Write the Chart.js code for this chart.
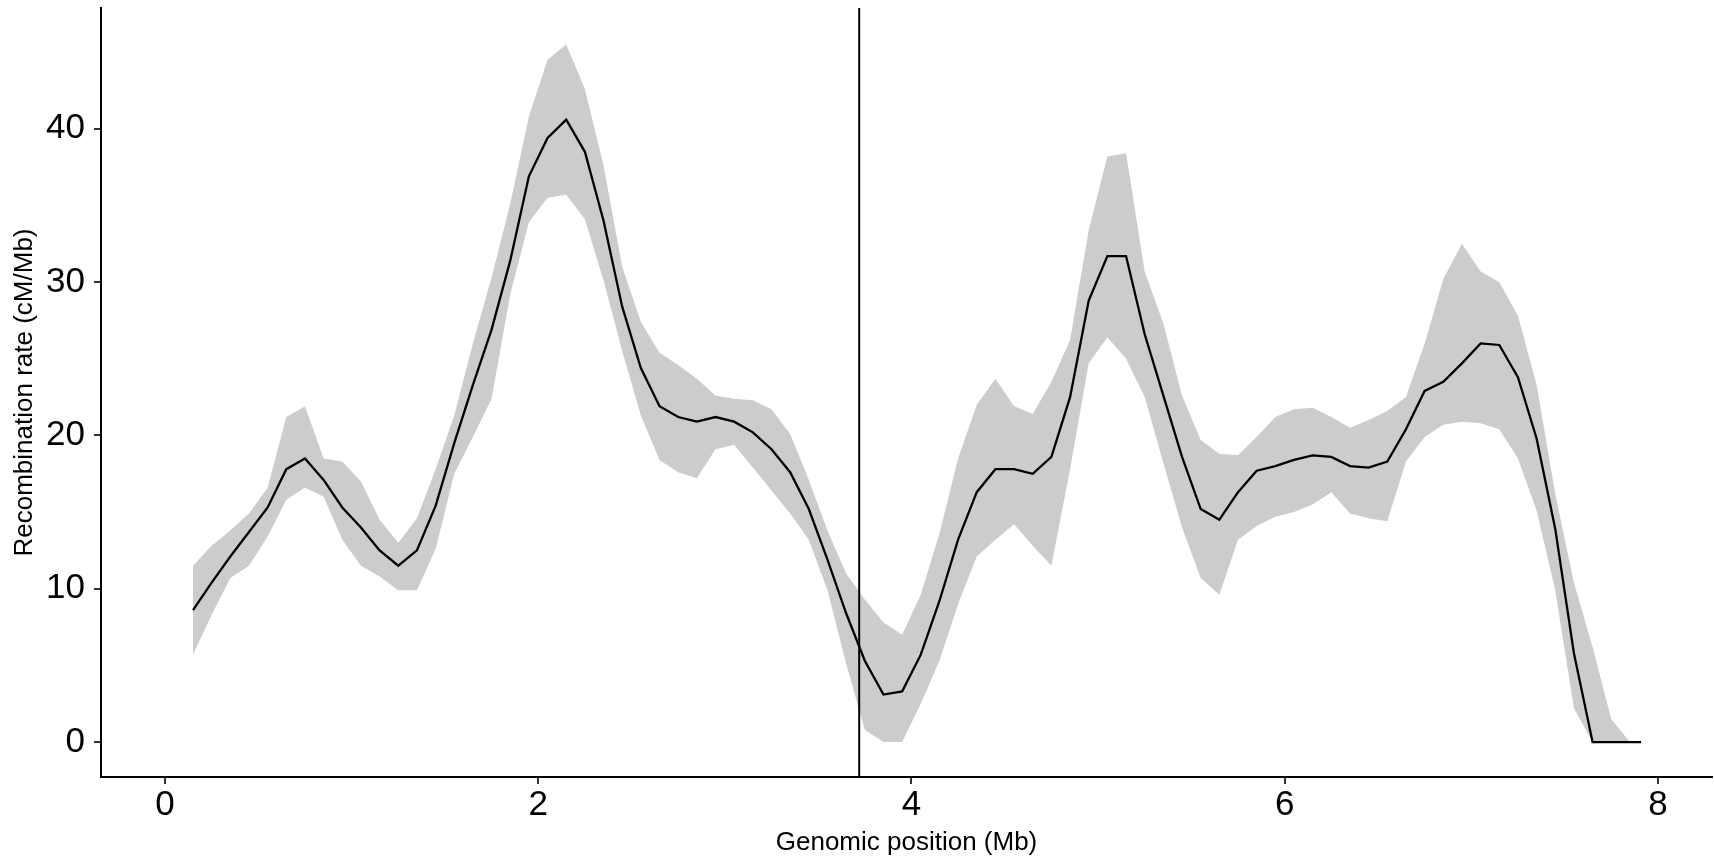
<!DOCTYPE html>
<html>
<head>
<meta charset="utf-8">
<script src="https://cdn.jsdelivr.net/npm/chart.js@4.4.1/dist/chart.umd.min.js"></script>
<style>
  html, body { margin: 0; padding: 0; background: #fff; }
  #wrap { width: 1714px; height: 860px; }
</style>
</head>
<body>
<div id="wrap"><canvas id="recChart" width="1714" height="860"></canvas></div>
<script>
// Window centres along the chromosome (Mb)
var positions = [
    0.15, 0.25, 0.35, 0.45, 0.55, 0.65, 0.75, 0.85, 0.95, 1.05,
    1.15, 1.25, 1.35, 1.45, 1.55, 1.65, 1.75, 1.85, 1.95, 2.05,
    2.15, 2.25, 2.35, 2.45, 2.55, 2.65, 2.75, 2.85, 2.95, 3.05,
    3.15, 3.25, 3.35, 3.45, 3.55, 3.65, 3.75, 3.85, 3.95, 4.05,
    4.15, 4.25, 4.35, 4.45, 4.55, 4.65, 4.75, 4.85, 4.95, 5.05,
    5.15, 5.25, 5.35, 5.45, 5.55, 5.65, 5.75, 5.85, 5.95, 6.05,
    6.15, 6.25, 6.35, 6.45, 6.55, 6.65, 6.75, 6.85, 6.95, 7.05,
    7.15, 7.25, 7.35, 7.45, 7.55, 7.65, 7.75, 7.85, 7.91
];

// Mean recombination rate (cM/Mb)
var rate = [
    8.6, 10.4, 12.1, 13.7, 15.3, 17.8, 18.5, 17.1, 15.3, 14.0,
    12.5, 11.5, 12.5, 15.4, 19.5, 23.3, 26.9, 31.4, 36.9, 39.4,
    40.6, 38.5, 34.0, 28.4, 24.4, 21.9, 21.2, 20.9, 21.2, 20.9,
    20.2, 19.1, 17.6, 15.2, 11.9, 8.4, 5.3, 3.1, 3.3, 5.7,
    9.2, 13.2, 16.3, 17.8, 17.8, 17.5, 18.6, 22.5, 28.8, 31.7,
    31.7, 26.6, 22.6, 18.6, 15.2, 14.5, 16.3, 17.7, 18.0, 18.4,
    18.7, 18.6, 18.0, 17.9, 18.3, 20.4, 22.9, 23.5, 24.7, 26.0,
    25.9, 23.8, 19.8, 13.9, 5.8, 0.0, 0.0, 0.0, 0.0
];

// Upper bound of the interval
var rateHigh = [
    11.5, 12.8, 13.8, 14.9, 16.6, 21.2, 21.9, 18.5, 18.3, 17.0,
    14.5, 13.0, 14.6, 17.8, 21.3, 26.0, 30.3, 35.1, 40.8, 44.5,
    45.5, 42.6, 37.6, 31.0, 27.4, 25.4, 24.6, 23.7, 22.6, 22.4,
    22.3, 21.7, 20.1, 17.1, 13.8, 11.0, 9.3, 7.8, 7.0, 9.6,
    13.6, 18.5, 22.0, 23.7, 21.9, 21.4, 23.5, 26.2, 33.4, 38.2,
    38.4, 30.7, 27.3, 22.6, 19.7, 18.8, 18.7, 19.9, 21.2, 21.7,
    21.8, 21.2, 20.5, 21.0, 21.6, 22.5, 26.0, 30.2, 32.5, 30.7,
    30.0, 27.8, 23.3, 16.2, 10.4, 6.2, 1.5, 0.0, 0.0
];

// Lower bound of the interval
var rateLow = [
    5.7, 8.3, 10.7, 11.5, 13.4, 15.8, 16.6, 16.0, 13.2, 11.5,
    10.8, 9.9, 9.9, 12.6, 17.5, 19.9, 22.4, 29.2, 33.9, 35.5,
    35.7, 34.1, 30.1, 25.5, 21.3, 18.4, 17.6, 17.2, 19.1, 19.4,
    17.9, 16.4, 14.9, 13.2, 9.9, 5.1, 0.8, 0.0, 0.0, 2.5,
    5.3, 9.0, 12.1, 13.2, 14.2, 12.8, 11.5, 17.8, 24.7, 26.4,
    25.0, 22.5, 18.2, 14.0, 10.7, 9.6, 13.2, 14.1, 14.7, 15.0,
    15.5, 16.3, 14.9, 14.6, 14.4, 18.3, 19.9, 20.7, 20.9, 20.8,
    20.4, 18.5, 15.1, 9.9, 2.2, 0.0, 0.0, 0.0, 0.0
];

// Marked position (vertical line) and axis ticks
var markerPos = 3.72;
var xTicks = [0, 2, 4, 6, 8];
var yTicks = [0, 10, 20, 30, 40];

var FONT = "'Liberation Sans', Arial, Helvetica, sans-serif";

function toPoints(ys) {
    return positions.map(function (x, i) { return { x: x, y: ys[i] }; });
}

// Vertical line at the marked position
var markerLine = {
    id: 'markerLine',
    afterDatasetsDraw: function (chart) {
        var ctx = chart.ctx;
        var area = chart.chartArea;
        var px = chart.scales.x.getPixelForValue(markerPos);
        ctx.save();
        ctx.strokeStyle = '#000';
        ctx.lineWidth = 2;
        ctx.beginPath();
        ctx.moveTo(px, area.top);
        ctx.lineTo(px, area.bottom);
        ctx.stroke();
        ctx.restore();
    }
};

var ctx = document.getElementById('recChart').getContext('2d');
var recChart = new Chart(ctx, {
    type: 'line',
    data: {
        datasets: [
            {
                label: 'rate',
                data: toPoints(rate),
                borderColor: '#000',
                borderWidth: 2.3,
                fill: false
            },
            {
                label: 'high',
                data: toPoints(rateHigh),
                borderWidth: 0,
                borderColor: 'rgba(0,0,0,0)',
                backgroundColor: '#cccccc',
                fill: '+1'
            },
            {
                label: 'low',
                data: toPoints(rateLow),
                borderWidth: 0,
                borderColor: 'rgba(0,0,0,0)',
                fill: false
            }
        ]
    },
    options: {
        responsive: false,
        animation: false,
        layout: { padding: { top: 8, right: 2, left: 0, bottom: 0 } },
        elements: {
            point: { radius: 0 },
            line: { tension: 0 }
        },
        plugins: {
            legend: { display: false },
            tooltip: { enabled: false }
        },
        scales: {
            x: {
                type: 'linear',
                min: -0.343,
                max: 8.29,
                afterFit: function (s) {
                    s.height = 83;
                    s.paddingLeft = 0;
                    s.paddingRight = 0;
                },
                afterBuildTicks: function (s) { s.ticks = xTicks.map(function (v) { return { value: v }; }); },
                grid: { drawOnChartArea: false, drawTicks: true, tickLength: 7, color: '#333', lineWidth: 2 },
                border: { color: '#000', width: 2 },
                ticks: { color: '#000', padding: 4, maxRotation: 0, font: { family: FONT, size: 35, lineHeight: 1 } },
                title: {
                    display: true,
                    text: 'Genomic position (Mb)',
                    color: '#000',
                    font: { family: FONT, size: 26, lineHeight: 1.2 },
                    padding: { top: 0, bottom: 2 }
                }
            },
            y: {
                type: 'linear',
                min: -2.28,
                max: 47.88,
                afterFit: function (s) {
                    s.width = 101;
                    s.paddingTop = 0;
                    s.paddingBottom = 0;
                },
                afterBuildTicks: function (s) { s.ticks = yTicks.map(function (v) { return { value: v }; }); },
                grid: { drawOnChartArea: false, drawTicks: true, tickLength: 7, color: '#333', lineWidth: 2 },
                border: { color: '#000', width: 2 },
                ticks: { color: '#000', padding: 9, font: { family: FONT, size: 35, lineHeight: 1 } },
                title: {
                    display: true,
                    text: 'Recombination rate (cM/Mb)',
                    color: '#000',
                    font: { family: FONT, size: 26, lineHeight: 1.2 },
                    padding: { top: 9, bottom: 0 }
                }
            }
        }
    },
    plugins: [markerLine]
});
</script>
</body>
</html>
